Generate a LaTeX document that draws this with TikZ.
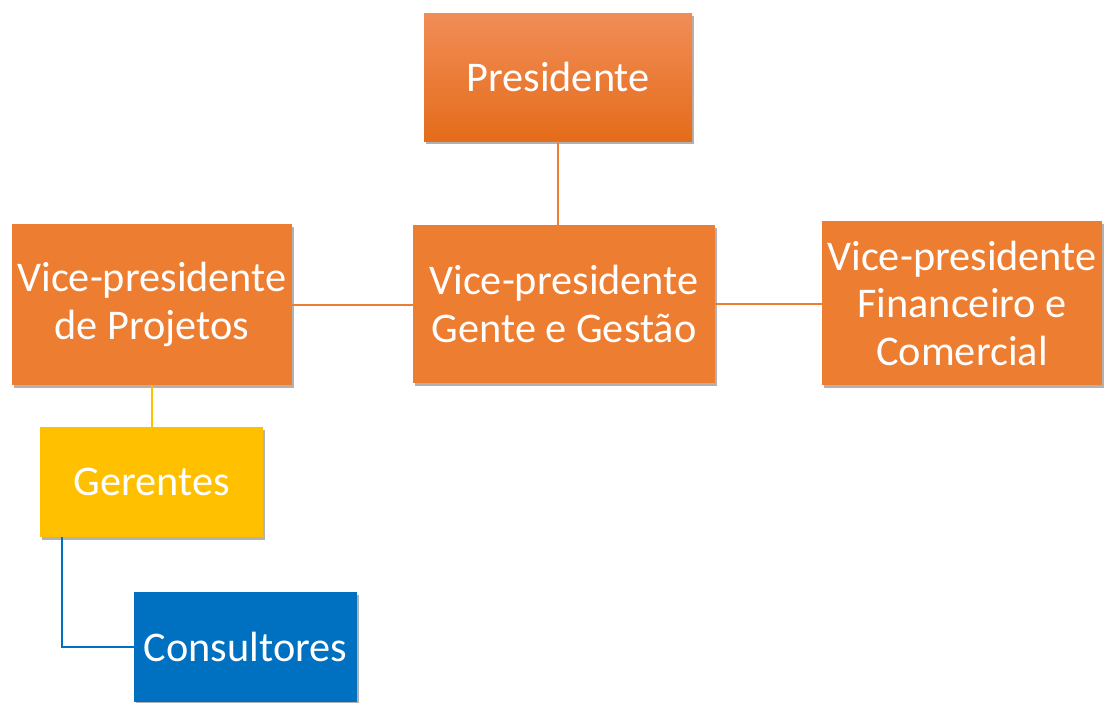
\documentclass[tikz,border=0pt]{standalone}
\usepackage{fontspec}
\setmainfont{Carlito}
\usetikzlibrary{shadows}
\definecolor{orng}{HTML}{ED7D31}
\definecolor{orngtop}{HTML}{F18D57}
\definecolor{orngbot}{HTML}{E46C1A}
\definecolor{gold}{HTML}{FFC000}
\definecolor{blu}{HTML}{0070C0}
\tikzset{
  box/.style={rectangle, inner sep=0pt, align=center, text=white,
    font=\fontsize{42.3}{47.5}\selectfont,
    drop shadow={shadow xshift=2pt, shadow yshift=-3pt, opacity=0.3, fill=black}},
  obox/.style={box, fill=orng},
  link/.style={line width=2pt},
}
\begin{document}
\begin{tikzpicture}[x=1pt, y=-1pt]
\fill[white] (0,0) rectangle (1108,702);
\useasboundingbox (0,0) rectangle (1108,702);

\node[box, top color=orngtop, bottom color=orngbot, minimum width=268pt, minimum height=128pt] (pres) at (558,77) {Presidente};
\node[obox, minimum width=280pt, minimum height=161pt] (vpp) at (152,304.5) {Vice-presidente\\de Projetos};
\node[obox, minimum width=302pt, minimum height=158pt] (vpg) at (564,304) {Vice-presidente\\Gente e Gestão};
\node[obox, minimum width=280pt, minimum height=164pt] (vpf) at (962,303) {Vice-presidente\\Financeiro e\\Comercial};
\node[box, fill=gold, minimum width=223pt, minimum height=110pt] (ger) at (151.5,482) {Gerentes};
\node[box, fill=blu, minimum width=223pt, minimum height=110pt] (con) at (245.5,647) {Consultores};

\draw[link, orng] (pres.south) -- (pres.south |- vpg.north);
\draw[link, orng] (vpp.east) -- (vpp.east -| vpg.west);
\draw[link, orng] (vpg.east) -- (vpg.east -| vpf.west);
\draw[line width=1.6pt, gold] (vpp.south) -- (vpp.south |- ger.north);
\draw[link, blu] ([xshift=22pt]ger.south west) |- (con.west);
\end{tikzpicture}
\end{document}
